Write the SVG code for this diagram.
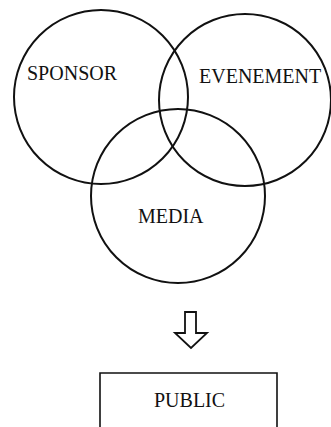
<svg xmlns="http://www.w3.org/2000/svg" width="331" height="427" viewBox="0 0 331 427">
<style>
.c{fill:none;stroke:#111;stroke-width:2}
.t{font-family:"Liberation Serif","Times New Roman",serif;font-size:20px;fill:#111}
</style>
<rect width="331" height="427" fill="#fff"/>
<g id="sponsor"><circle class="c" cx="101" cy="97" r="87"/><text class="t" x="27" y="80">SPONSOR</text></g>
<g id="evenement"><circle class="c" cx="245" cy="100" r="86"/><text class="t" x="199" y="83">EVENEMENT</text></g>
<g id="media"><circle class="c" cx="178" cy="196" r="87"/><text class="t" x="138" y="223">MEDIA</text></g>
<g id="connectors"><path d="M185,312 H196 V333 H207 L191,348 L175,333 H185 Z" fill="#fff" stroke="#111" stroke-width="1.8" stroke-linejoin="miter"/></g>
<g id="public"><path d="M100,428 V373 H277 V428" fill="none" stroke="#111" stroke-width="1.6"/><text class="t" x="154" y="407">PUBLIC</text></g>
</svg>
